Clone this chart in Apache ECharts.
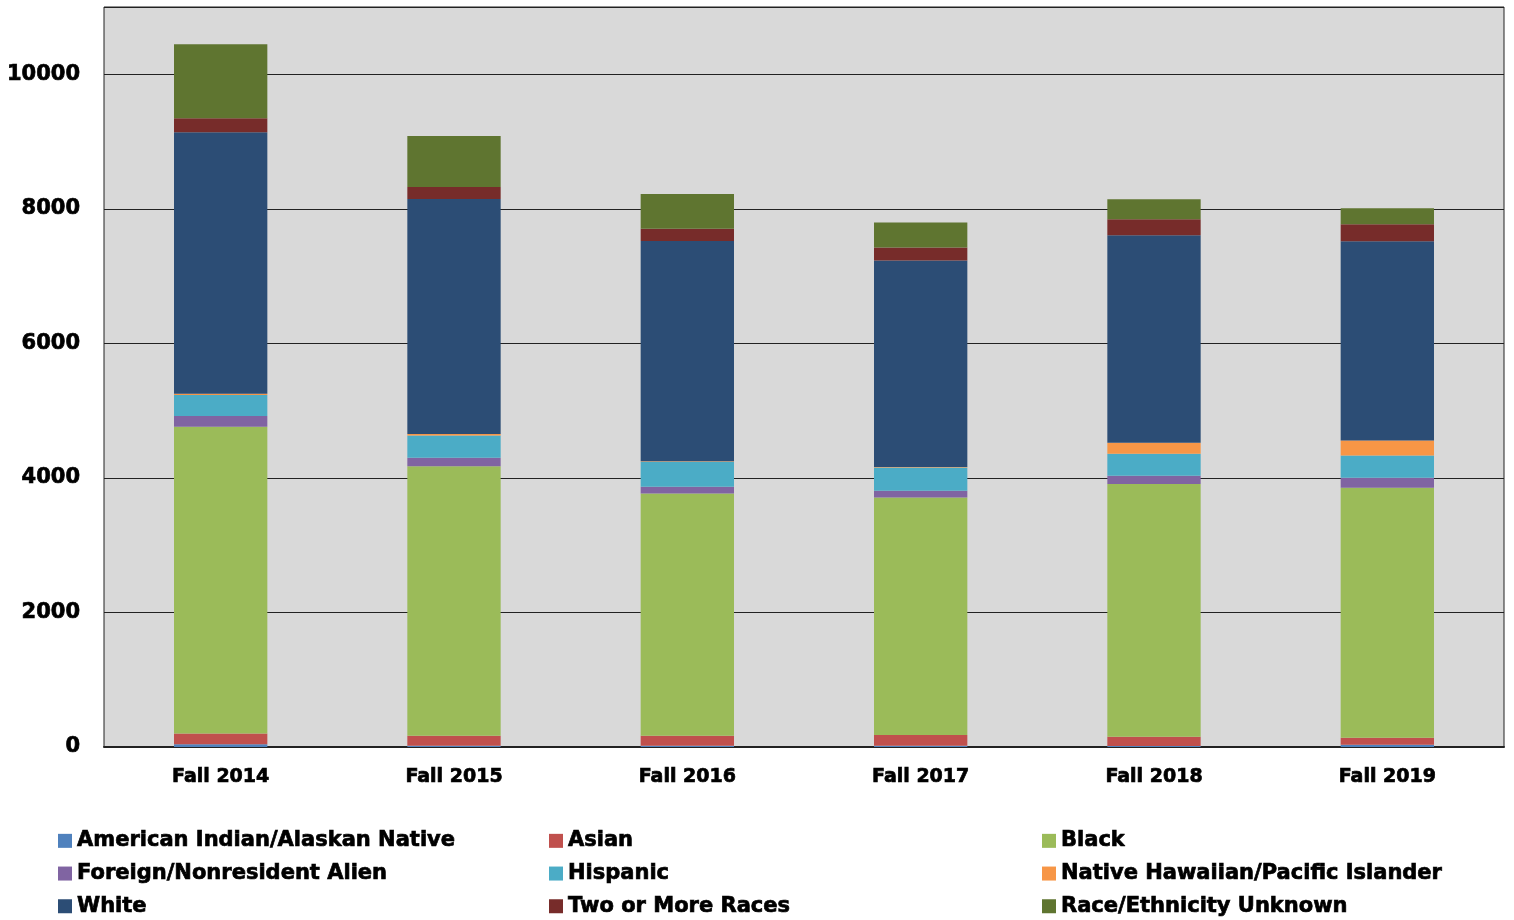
<!DOCTYPE html>
<html>
<head>
<meta charset="utf-8">
<script src="https://cdn.jsdelivr.net/npm/echarts@6/dist/echarts.min.js"></script>
<style>
  html, body { margin: 0; padding: 0; background: #ffffff; }
  #chart { width: 1514px; height: 920px; }
</style>
</head>
<body>
<div id="chart"></div>
<script>
var terms = ["Fall 2014", "Fall 2015", "Fall 2016", "Fall 2017", "Fall 2018", "Fall 2019"];

// headcounts per group
var amIndian   = [40, 20, 20, 20, 15, 35];
var asian      = [160, 148, 148, 158, 138, 103];
var black      = [4560, 4007, 3602, 3532, 3755, 3715];
var foreign    = [160, 124, 98, 98, 123, 149];
var hispanic   = [312, 332, 371, 348, 327, 332];
var hawaiian   = [20, 20, 10, 6, 164, 223];
var white      = [3888, 3496, 3274, 3070, 3086, 2962];
var twoOrMore  = [208, 179, 179, 193, 237, 252];
var unknown    = [1100, 758, 520, 372, 298, 238];

var yTicks = [0, 2000, 4000, 6000, 8000, 10000];

var groups = [
    { name: "American Indian/Alaskan Native", data: amIndian, color: "#4f81bd" },
    { name: "Asian", data: asian, color: "#c0504d" },
    { name: "Black", data: black, color: "#9bbb59" },
    { name: "Foreign/Nonresident Alien", data: foreign, color: "#8064a2" },
    { name: "Hispanic", data: hispanic, color: "#4bacc6" },
    { name: "Native Hawaiian/Pacific Islander", data: hawaiian, color: "#f79646" },
    { name: "White", data: white, color: "#2c4d75" },
    { name: "Two or More Races", data: twoOrMore, color: "#772c2a" },
    { name: "Race/Ethnicity Unknown", data: unknown, color: "#5f7530" }
];

var font = "'DejaVu Sans', sans-serif";

function heavy(size) {
    return {
        fontFamily: font, fontWeight: "bold", fontSize: size, color: "#000",
        textBorderColor: "#000", textBorderWidth: 0.7
    };
}

function makeLegend(left, names) {
    return {
        orient: "vertical",
        left: left,
        top: 825,
        height: 100,
        itemWidth: 14,
        itemHeight: 14,
        itemGap: 11,
        icon: "rect",
        selectedMode: false,
        data: names,
        textStyle: heavy(21)
    };
}

var myChart = echarts.init(document.getElementById("chart"));

var options = {
    animation: false,
    grid: {
        left: 104, right: 10, top: 7, bottom: 173,
        show: true,
        backgroundColor: "#d9d9d9",
        borderColor: "#222",
        borderWidth: 1
    },
    legend: [
        makeLegend(53, [groups[0].name, groups[3].name, groups[6].name]),
        makeLegend(544, [groups[1].name, groups[4].name, groups[7].name]),
        makeLegend(1037, [groups[2].name, groups[5].name, groups[8].name])
    ],
    xAxis: {
        type: "category",
        data: terms,
        axisLine: { lineStyle: { color: "#222", width: 2 } },
        axisTick: { show: false },
        axisLabel: Object.assign({ margin: 21 }, heavy(19))
    },
    yAxis: {
        type: "value",
        min: 0,
        max: 11000,
        interval: 2000,
        axisLine: { show: false },
        axisTick: { show: false },
        splitLine: { lineStyle: { color: "#222", width: 1 } },
        axisLabel: Object.assign({
            margin: 24,
            showMaxLabel: false,
            formatter: function (v) { return yTicks.indexOf(v) >= 0 ? String(v) : ""; }
        }, heavy(21))
    },
    series: groups.map(function (g) {
        return {
            name: g.name,
            type: "bar",
            stack: "total",
            barWidth: "40%",
            data: g.data,
            itemStyle: { color: g.color },
            emphasis: { disabled: true }
        };
    })
};

myChart.setOption(options);
</script>
</body>
</html>
